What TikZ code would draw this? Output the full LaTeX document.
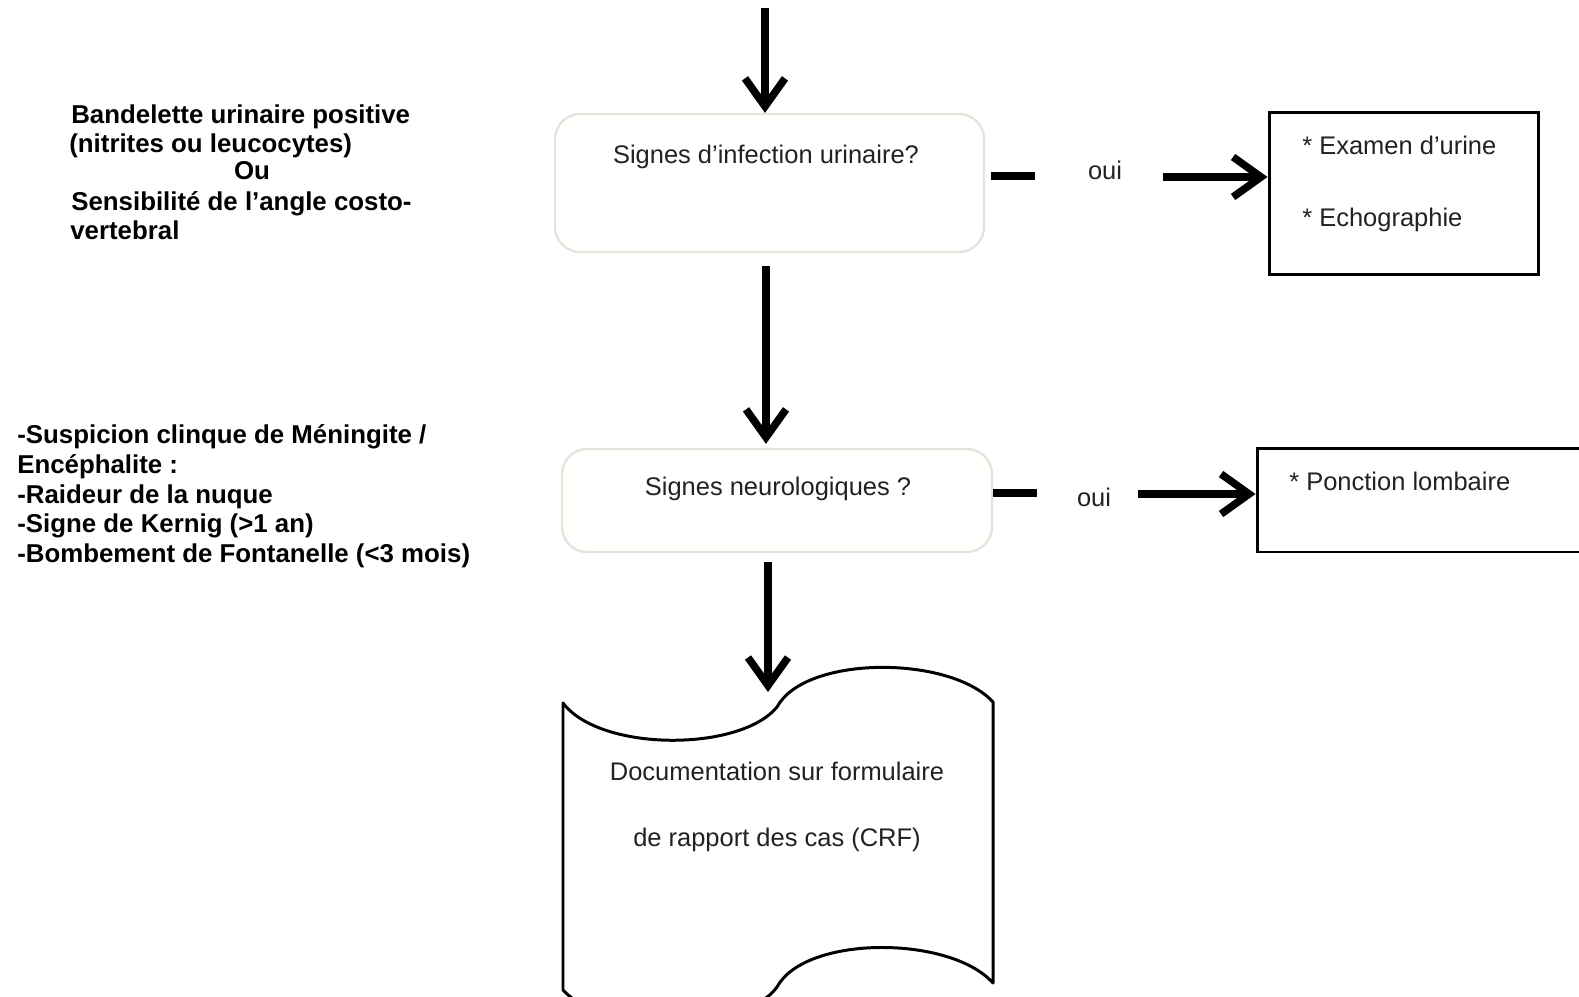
\documentclass[tikz,border=0pt]{standalone}
\usepackage{fontspec}
\setmainfont{Liberation Sans}
\usetikzlibrary{arrows.meta}
\begin{document}
\begin{tikzpicture}[x=0.02cm,y=-0.02cm,
  txt/.style={inner sep=0pt, text={rgb,255:red,34;green,34;blue,34}, font=\fontsize{14.5}{17}\selectfont},
  btxt/.style={inner sep=0pt, text=black, font=\fontsize{14.7}{17}\selectfont\bfseries},
  qbox/.style={draw={rgb,255:red,228;green,228;blue,220}, line width=1.3pt,
    fill={rgb,255:red,255;green,255;blue,253}, rounded corners=0.5cm, inner sep=0pt},
  rbox/.style={draw=black, line width=1.7pt, inner sep=0pt},
  arr/.style={line width=4.3pt, -{Straight Barb[length=0.56cm,width=0.8cm]}},
  stub/.style={line width=4.5pt},
  docline/.style={draw=black, line width=1.7pt, line join=round},
]
\path[use as bounding box, clip] (0,0) rectangle (1579,997);
\fill[white] (0,0) rectangle (1579,997);

% question boxes
\node[qbox, minimum width=8.58cm, minimum height=2.76cm] (b1) at (769.5,183) {};
\node[qbox, minimum width=8.6cm, minimum height=2.06cm] (b2) at (777,500.5) {};
\node[txt, anchor=mid] (t1) at (766,159) {Signes d’infection urinaire?};
\node[txt, anchor=mid] (t2) at (778,491) {Signes neurologiques ?};

% result boxes
\node[rbox, minimum width=5.4cm, minimum height=3.26cm] (r1) at (1404,193.5) {};
\node[rbox, minimum width=6.56cm, minimum height=2.08cm] (r2) at (1421,500) {};
\node[txt, anchor=mid west] (r1a) at (1302,150) {* Examen d’urine};
\node[txt, anchor=mid west] (r1b) at (1302,222) {* Echographie};
\node[txt, anchor=mid west] (r2a) at (1289,486) {* Ponction lombaire};

% oui labels
\node[txt, anchor=mid] (oui1) at (1105,175) {oui};
\node[txt, anchor=mid] (oui2) at (1094,502) {oui};

% left notes
\node[btxt, anchor=mid west] (la) at (71,119) {Bandelette urinaire positive};
\node[btxt, anchor=mid west] (lb) at (69,148) {(nitrites ou leucocytes)};
\node[btxt, anchor=mid] (lc) at (252,175) {Ou};
\node[btxt, anchor=mid west] (ld) at (71,206) {Sensibilité de l’angle costo-};
\node[btxt, anchor=mid west] (le) at (70,235) {vertebral};

\node[btxt, anchor=mid west] (ma) at (17,439) {-Suspicion clinque de Méningite /};
\node[btxt, anchor=mid west] (mb) at (17,469) {Encéphalite :};
\node[btxt, anchor=mid west] (mc) at (17,499) {-Raideur de la nuque};
\node[btxt, anchor=mid west] (md) at (17,528) {-Signe de Kernig (>1 an)};
\node[btxt, anchor=mid west] (me) at (17,558) {-Bombement de Fontanelle (<3 mois)};

% document shape
\draw[docline] (563,703)
  .. controls (600,752) and (740,752) .. (777,707)
  .. controls (805,655) and (950,655) .. (993,702)
  -- (993,983)
  .. controls (950,935) and (805,935) .. (777,987)
  .. controls (745,1032) and (600,1032) .. (563,990)
  -- cycle;
\node[txt, anchor=mid] (doc1) at (777,776) {Documentation sur formulaire};
\node[txt, anchor=mid] (doc2) at (777,842) {de rapport des cas (CRF)};

% connectors
\coordinate (top) at (765,8);
\draw[arr] (top) -- (top |- b1.north);
\draw[arr, shorten <=0.26cm, shorten >=0.08cm] (b1.south -| 766,0) -- (b2.north -| 766,0);
\coordinate (docin) at (768,692);
\draw[arr, shorten <=0.18cm] (b2.south -| docin) -- (docin);

\coordinate (d1) at (991,176);
\draw[stub] (d1) -- ++(44,0);
\coordinate (a1) at (1163,177);
\draw[arr] (a1) -- (a1 -| r1.west);

\coordinate (d2) at (993,493);
\draw[stub] (d2) -- ++(44,0);
\coordinate (a2) at (1138,494);
\draw[arr] (a2) -- (a2 -| r2.west);
\end{tikzpicture}
\end{document}
